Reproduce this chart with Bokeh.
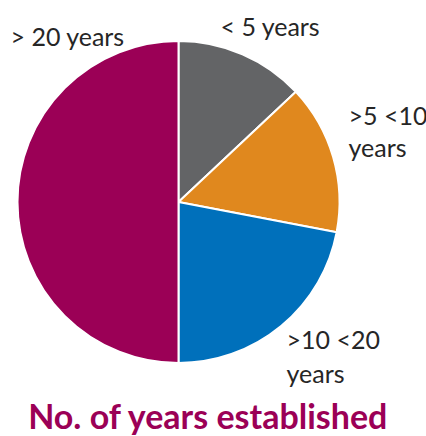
import numpy as np
from bokeh.plotting import figure
from bokeh.models import Range1d, ColumnDataSource
from bokeh.core.properties import value
from bokeh.embed import file_html
from bokeh.resources import INLINE

# ---- data ----
categories = ["< 5 years", ">5 <10 years", ">10 <20 years", "> 20 years"]
shares = [13, 15, 22, 50]
colors = ["#636466", "#E0881E", "#0070BB", "#9B0056"]
label_lines = [["< 5 years"], [">5 <10", "years"], [">10 <20", "years"], ["> 20 years"]]
title_text = "No. of years established"

W, H = 426, 436
# data units == screen pixels; y measured upward from the bottom (436 - window y)
p = figure(width=W, height=H, x_range=Range1d(0, W), y_range=Range1d(0, H),
           output_backend="svg", toolbar_location=None, min_border=0)
p.axis.visible = False
p.grid.visible = False
p.outline_line_color = None
p.background_fill_color = "white"
p.border_fill_color = "white"

def wy(y):
    return H - y

cx, cy, r = 178, wy(201.5), 161
frac = np.array(shares, dtype=float) / sum(shares)
cum = np.cumsum(frac)
prev = np.concatenate([[0], cum[:-1]])
start = np.pi / 2 - 2 * np.pi * prev
end = np.pi / 2 - 2 * np.pi * cum

src = ColumnDataSource(dict(start=start, end=end, color=colors, cat=categories))
p.wedge(x=cx, y=cy, radius=r, start_angle="start", end_angle="end", direction="clock",
        fill_color="color", line_color="white", line_width=2, source=src)

# label anchors (window px: left x, baseline y, line gap)
label_pos = [(220, 35, 0), (348, 124, 32), (286, 348, 34), (10, 44.5, 0)]
shift = 9.5
tx, ty, tt = [], [], []
for lines, (lx, ly, gap) in zip(label_lines, label_pos):
    for i, s in enumerate(lines):
        tx.append(lx)
        ty.append(wy(ly + i * gap - shift))
        tt.append(s)
p.text(x=tx, y=ty, text=tt, text_font=value("Lato"), text_font_size="25px",
       text_color="#262626", text_align="left", text_baseline="alphabetic")

p.text(x=[208], y=[wy(426 - 11)], text=[title_text], text_font=value("Lato"),
       text_font_size="34px", text_font_style="bold", text_color="#9B0056",
       text_align="center", text_baseline="alphabetic")

open("out.html", "w").write(file_html(p, INLINE))
